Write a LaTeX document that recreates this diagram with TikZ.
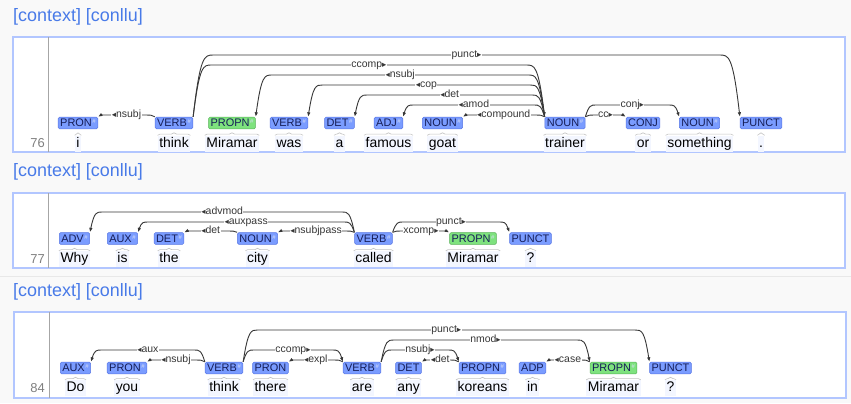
\documentclass[tikz,border=0pt]{standalone}
\usepackage{fontspec}
\setmainfont{Liberation Sans}
\newfontfamily\symfont{DejaVu Sans}
\usetikzlibrary{arrows.meta, calc, decorations.pathreplacing}

\definecolor{tagblue}{RGB}{122,156,255}
\definecolor{tagblueline}{RGB}{88,118,228}
\definecolor{taggreen}{RGB}{126,226,126}
\definecolor{taggreenline}{RGB}{88,178,88}
\definecolor{tagtext}{RGB}{22,30,88}
\definecolor{markgray}{RGB}{215,222,245}
\definecolor{linkblue}{RGB}{72,122,232}
\definecolor{boxblue}{RGB}{178,198,255}
\definecolor{bggray}{RGB}{249,249,249}
\definecolor{sepgray}{RGB}{232,232,232}
\definecolor{arcgray}{RGB}{55,55,55}
\definecolor{bracegray}{RGB}{196,196,196}
\definecolor{wordbg}{RGB}{243,246,255}

\newcommand{\mk}{\hspace{0.6bp}\raisebox{3.2bp}{\color{markgray}\fontsize{6}{6}\selectfont\#}}
\newcommand{\lar}{{\symfont\fontsize{8.5}{8.5}\selectfont ◂}}
\newcommand{\rar}{{\symfont\fontsize{8.5}{8.5}\selectfont ▸}}

\tikzset{
  hdr/.style={anchor=west, inner sep=0pt, text=linkblue, font=\fontsize{18}{20}\selectfont},
  sentbox/.style={draw=boxblue, line width=1.2bp, fill=white},
  divider/.style={draw=gray!70, line width=0.6bp},
  lineno/.style={anchor=east, inner sep=0pt, text=gray, font=\fontsize{13}{15}\selectfont},
  tag/.style={draw=tagblueline, fill=tagblue, rounded corners=1.5bp, line width=0.5bp,
    inner xsep=2bp, inner ysep=1.8bp, text height=8bp, text depth=0.3bp,
    text=tagtext, font=\fontsize{11}{12}\selectfont},
  gtag/.style={tag, draw=taggreenline, fill=taggreen},
  word/.style={fill=wordbg, inner sep=1.5bp, text height=10bp, text depth=3bp,
    font=\fontsize{14}{16}\selectfont},
  curly/.style={decorate, decoration={brace, amplitude=2.5bp}, draw=bracegray, line width=0.6bp},
  lbl/.style={midway, fill=white, inner sep=0.5bp, text height=6.5bp, text depth=1.5bp,
    text=arcgray, font=\fontsize{10.5}{11}\selectfont},
  dep/.style={draw=arcgray, line width=0.9bp, -{Latex[length=4.5bp,width=3.5bp]},
    to path={let \p1=(\tikztostart), \p2=(\tikztotarget), \p3=(0,#1),
      \n1={sign(\x2-\x1)}, \n2={8+0.2*abs(\y3-\y1)}, \n3={8+0.2*abs(\y3-\y2)} in
      .. controls (\x1+\n1*0.35*\n2*1pt, \y3) and (\x1+\n1*0.55*\n2*1pt, \y3)
      .. (\x1+\n1*\n2*1pt, \y3)
      -- (\x2-\n1*\n3*1pt, \y3) \tikztonodes
      .. controls (\x2-\n1*0.55*\n3*1pt, \y3) and (\x2-\n1*0.35*\n3*1pt, \y3) .. (\p2)}},
}

\begin{document}
\begin{tikzpicture}[x=1bp, y=-1bp]
  \useasboundingbox (0,0) rectangle (851,403);
  \fill[bggray] (0,0) rectangle (851,403);
  \draw[sepgray] (0,276) -- (851,276);

  % sentence 76
  \node[hdr] (h1) at (13,17) {[context] [conllu]};
  \draw[sentbox] (13,37) rectangle (845,152);
  \draw[divider] (48,37) -- (48,152);
  \node[lineno] (n1) at (45,143.5) {76};
  \foreach \x/\st/\tg/\wrd [count=\i] in {78/tag/PRON\mk/i, 174/tag/VERB\mk/think,
      232/gtag/PROPN\mk/Miramar, 289/tag/VERB\mk/was, 339.5/tag/DET\mk/a,
      388.5/tag/ADJ\mk/famous, 442.5/tag/NOUN\mk/goat, 565/tag/NOUN\mk/trainer,
      643/tag/CONJ/or, 699.5/tag/NOUN\mk/something, 761/tag/PUNCT/.} {
    \node[\st] (a\i) at (\x,123) {\tg};
    \node[word] (aw\i) at (\x,143.5) {\wrd};
    \draw[curly] (aw\i.north west) -- (aw\i.north east);
  }
  \draw[dep=115] (a2.north west) to node[lbl] {\lar nsubj} (a1.north east);
  \draw[dep=55] (a2.north east) to node[lbl] {punct\rar} (a11.north west);
  \draw[dep=65] (a2.north east) to node[lbl] {ccomp\rar} (a8.north west);
  \draw[dep=75] (a8.north west) to node[lbl] {\lar nsubj} (a3.north east);
  \draw[dep=85] (a8.north west) to node[lbl] {\lar cop} (a4.north east);
  \draw[dep=95] (a8.north west) to node[lbl] {\lar det} (a5.north east);
  \draw[dep=105] (a8.north west) to node[lbl] {\lar amod} (a6.north east);
  \draw[dep=115] (a8.north west) to node[lbl] {\lar compound} (a7.north east);
  \draw[dep=115] (a8.north east) to node[lbl] {cc\rar} (a9.north west);
  \draw[dep=105] (a8.north east) to node[lbl] {conj\rar} (a10.north west);

  % sentence 77
  \node[hdr] (h2) at (13,172) {[context] [conllu]};
  \draw[sentbox] (13,193) rectangle (845,268);
  \draw[divider] (48,193) -- (48,268);
  \node[lineno] (n2) at (45,259) {77};
  \foreach \x/\st/\tg/\wrd [count=\i] in {74.5/tag/ADV\mk/Why, 122.5/tag/AUX\mk/is,
      169/tag/DET\mk/the, 257.5/tag/NOUN\mk/city, 373.5/tag/VERB\mk/called,
      473/gtag/PROPN\mk/Miramar, 530.5/tag/PUNCT/?} {
    \node[\st] (b\i) at (\x,238.5) {\tg};
    \node[word] (bw\i) at (\x,259) {\wrd};
    \draw[curly] (bw\i.north west) -- (bw\i.north east);
  }
  \draw[dep=212] (b5.north west) to node[lbl] {\lar advmod} (b1.north east);
  \draw[dep=222] (b5.north west) to node[lbl] {\lar auxpass} (b2.north east);
  \draw[dep=231] (b5.north west) to node[lbl] {\lar nsubjpass} (b4.north east);
  \draw[dep=231] (b4.north west) to node[lbl] {\lar det} (b3.north east);
  \draw[dep=231] (b5.north east) to node[lbl] {xcomp\rar} (b6.north west);
  \draw[dep=222] (b5.north east) to node[lbl] {punct\rar} (b7.north west);

  % sentence 84
  \node[hdr] (h3) at (13,292) {[context] [conllu]};
  \draw[sentbox] (14,312) rectangle (846,398);
  \draw[divider] (49,312) -- (49,398);
  \node[lineno] (n3) at (45,388) {84};
  \foreach \x/\st/\tg/\wrd [count=\i] in {75.5/tag/AUX\mk/Do, 127/tag/PRON\mk/you,
      224/tag/VERB\mk/think, 270.5/tag/PRON/there, 362/tag/VERB\mk/are,
      408.5/tag/DET/any, 482.5/tag/PROPN\mk/koreans, 532.5/tag/ADP/in,
      613.5/gtag/PROPN\mk/Miramar, 670.5/tag/PUNCT/?} {
    \node[\st] (c\i) at (\x,368) {\tg};
    \node[word] (cw\i) at (\x,388) {\wrd};
    \draw[curly] (cw\i.north west) -- (cw\i.north east);
  }
  \draw[dep=350] (c3.north west) to node[lbl] {\lar aux} (c1.north east);
  \draw[dep=360] (c3.north west) to node[lbl] {\lar nsubj} (c2.north east);
  \draw[dep=330] (c3.north east) to node[lbl] {punct\rar} (c10.north west);
  \draw[dep=350] (c3.north east) to node[lbl] {ccomp\rar} (c5.north west);
  \draw[dep=360] (c5.north west) to node[lbl] {\lar expl} (c4.north east);
  \draw[dep=340] (c5.north east) to node[lbl] {nmod\rar} (c9.north west);
  \draw[dep=350] (c5.north east) to node[lbl] {nsubj\rar} (c7.north west);
  \draw[dep=360] (c7.north west) to node[lbl] {\lar det} (c6.north east);
  \draw[dep=360] (c9.north west) to node[lbl] {\lar case} (c8.north east);
\end{tikzpicture}
\end{document}
